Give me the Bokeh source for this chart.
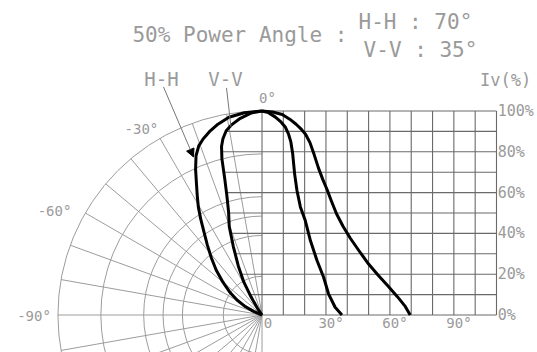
import numpy as np
from bokeh.plotting import figure
from bokeh.models import Range1d, Arrow, NormalHead
from bokeh.core.properties import value
from bokeh.embed import file_html
from bokeh.resources import INLINE

# ---------------- data ----------------
# V-V (narrow) radiation curve: angle (deg) vs relative intensity (%)
vv_angle = [0, 3, 6.3, 9, 11, 12.5, 13.5, 14.4, 15.3, 16.4, 18, 20.3, 22.7, 25.8, 28.9, 31.2, 34.3, 37.5]
vv_iv = [100, 99.2, 97, 94.5, 92, 88.5, 85, 79, 69.2, 61, 53, 46.3, 36.5, 26.7, 18.5, 10.4, 3.8, 0]
# H-H (wide) radiation curve
hh_angle = [0, 5, 9.5, 13, 16, 18.5, 20.5, 22.5, 24.5, 26.5, 28.5, 30.5, 32.5, 35, 38, 41.5, 45.5, 50, 54.5, 59, 63.5, 67, 69.5]
hh_iv = [100, 99.5, 98.3, 96, 93.5, 91, 88.5, 84.5, 78.5, 72, 66.5, 61.5, 56, 49.5, 43.5, 37.5, 31.5, 25, 19.5, 14.3, 9, 4.5, 0]

# cartesian grid / tick values
x_grid_deg = list(range(0, 111, 10))
y_grid_pct = list(range(0, 101, 10))
x_tick_deg = [0, 30, 60, 90]
x_tick_labels = ["0", "30°", "60°", "90°"]
y_tick_pct = [0, 20, 40, 60, 80, 100]
y_tick_labels = ["0%", "20%", "40%", "60%", "80%", "100%"]
# polar grid values
polar_radii = [19, 39, 48.5, 58, 79, 100]
polar_spokes = list(range(10, 181, 10))
polar_tick_labels = ["0°", "-30°", "-60°", "-90°"]

title_text = "50% Power Angle :"
hh_text = "H-H : 70°"
vv_text = "V-V : 35°"

# ---------------- layout constants ----------------
K = 1.045            # horizontal units per degree on the cartesian part
FONT = value("DejaVu Sans Mono")
TXT = "#9a9a9a"
CART = "#6a6a6a"
POL = "#9c9c9c"

p = figure(width=537, height=352,
           x_range=Range1d(-128.19, 135.05), y_range=Range1d(-18.38, 154.17),
           output_backend="svg", toolbar_location=None, min_border=0,
           x_axis_type=None, y_axis_type=None)
p.outline_line_color = None
p.background_fill_color = "white"
p.border_fill_color = "white"

# ---------------- polar grid ----------------
p.arc(x=0, y=0, radius=polar_radii, start_angle=np.pi / 2, end_angle=3 * np.pi / 2,
      line_color=POL, line_width=1)
sp = np.radians(polar_spokes)
p.segment(x0=0, y0=0, x1=-100 * np.sin(sp), y1=100 * np.cos(sp), line_color=POL, line_width=1)

# ---------------- cartesian grid ----------------
gx = np.array(x_grid_deg) * K
p.segment(x0=gx, y0=0, x1=gx, y1=100, line_color=CART, line_width=1.1)

vv_t = np.radians(vv_angle)
vv_px = -np.array(vv_iv) * np.sin(vv_t)
vv_py = np.array(vv_iv) * np.cos(vv_t)
order = np.argsort(vv_py)
lv = np.array(y_grid_pct, dtype=float)
left = np.interp(lv, vv_py[order], vv_px[order])
left[lv == 0] = 0
left[lv == 100] = 0
p.segment(x0=left, y0=lv, x1=K * 110, y1=lv, line_color=CART, line_width=1.1)

# ---------------- curves ----------------
for ang, iv in ((vv_angle, vv_iv), (hh_angle, hh_iv)):
    t = np.radians(ang)
    a = np.array(iv, dtype=float)
    # cartesian representation
    p.line(np.array(ang) * K, a, line_color="black", line_width=3, line_join="round")
    # polar representation (left half)
    p.line(-a * np.sin(t), a * np.cos(t), line_color="black", line_width=3, line_join="round")

# ---------------- labels ----------------
p.text(x=[k * K + 2.5 if k else 2.9 for k in x_tick_deg], y=-3.9, text=x_tick_labels,
       text_font=FONT, text_font_size="14px", text_color=TXT,
       text_align="center", text_baseline="middle")
p.text(x=K * 110 + 0.6, y=y_tick_pct, text=y_tick_labels,
       text_font=FONT, text_font_size="15px", text_color=TXT,
       text_align="left", text_baseline="middle")

pol_x = [2.7, -59.1, -101.7, -103.5]
pol_y = [106.6, 91.2, 51.2, -0.5]
p.text(x=pol_x[:3], y=pol_y[:3], text=polar_tick_labels[:3],
       text_font=FONT, text_font_size="14px", text_color=TXT,
       text_align="center", text_baseline="middle")
p.text(x=pol_x[3:], y=pol_y[3:], text=polar_tick_labels[3:],
       text_font=FONT, text_font_size="14px", text_color=TXT,
       text_align="right", text_baseline="middle")

p.text(x=[119.4], y=[115.2], text=["Iv(%)"], text_font=FONT, text_font_size="17px",
       text_color=TXT, text_align="center", text_baseline="middle")

p.text(x=[-63.5], y=[137.3], text=[title_text], text_font=FONT, text_font_size="21px",
       text_color=TXT, text_align="left", text_baseline="middle")
p.text(x=[47.3, 49.8], y=[143.6, 129.9], text=[hh_text, vv_text], text_font=FONT,
       text_font_size="21px", text_color=TXT, text_align="left", text_baseline="middle")

p.text(x=[-49.3, -17.9], y=[115.9, 115.9], text=["H-H", "V-V"], text_font=FONT,
       text_font_size="19px", text_color=TXT, text_align="center", text_baseline="middle")

# leaders
p.add_layout(Arrow(end=NormalHead(size=8, fill_color="black", line_color="black"),
                   x_start=-48.3, y_start=111.8, x_end=-33.6, y_end=77.5,
                   line_color="#777777", line_width=1))
p.line([-17.4, -15.2], [111.3, 92.2], line_color="#777777", line_width=1)

open("out.html", "w").write(file_html(p, INLINE))
